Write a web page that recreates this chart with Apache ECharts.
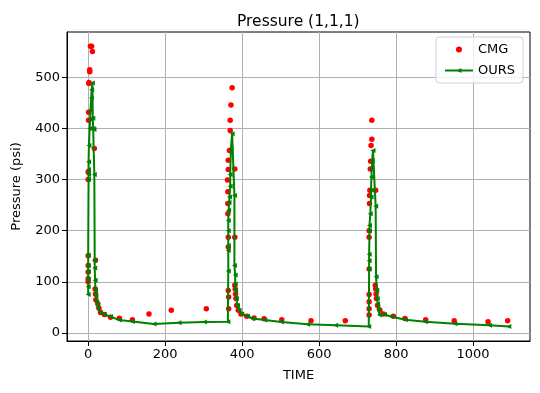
<!DOCTYPE html>
<html><head><meta charset="utf-8">
<script src="https://cdn.jsdelivr.net/npm/echarts@6/dist/echarts.min.js"></script>
<style>html,body{margin:0;padding:0;background:#fff}#c{width:540px;height:393px}</style>
</head><body><div id="c"></div>
<script>
const TITLE = 'Pressure (1,1,1)';
const X_TICKS = [0, 200, 400, 600, 800, 1000];
const Y_TICKS = [0, 100, 200, 300, 400, 500];

const CMG_T = [0,0,0,0,0,0,0,1,1,2,2,4,4,6,9,11,16,19,18,19,20,25,28,32,42,58,81,115,158,216,307,
  362,363,363,363,364,364,364,365,365,364,364,367,369,369,371,374,381,381,381,382,383,384,386,390,397,412,431,457,503,579,668,
  730,730,730,730,730,730,730,731,731,732,733,734,735,737,737,747,746,747,748,749,752,758,767,793,823,877,951,1039,1090];
const CMG_P = [100,106,119,132,151,300,315,416,432,488,490,511,515,561,561,551,361,142,86,76,65,57,48,40,36,30.6,28.6,25.5,37,44,47,
  299,276,253,233,187,168,83,70,47,320,338,357,396,416,446,480,321,187,93,86,76,67,53.5,44,37,32.5,29,27.5,25.5,23.5,23.5,
  75,61,47,35,125,187,200,253,269,279,321,336,367,379,416,279,93,86,76,67,53.5,44,37,32.5,28,25.5,23.5,21.5,23.5];

const OURS_T = [0,0,0,0,0,0,1,1,1,1,2,4,5,6,8,9,11,12,13,15,16,17,17,18,19,20,22,25,32,42,58,81,115,171,236,302,363,
  364,364,364,364,364,365,366,367,369,369,371,374,380,380,382,382,383,385,388,392,399,414,427,459,502,570,643,729,
  730,730,730,731,731,733,735,735,736,738,740,747,748,750,751,752,754,757,770,787,824,876,953,1043,1093];
const OURS_P = [75,90,105,120,132,152,300,310,320,335,367,400,418,436,460,476,489,420,400,398,310,142,127,103,84,72,60,50,40,36,32,25,22,17.5,19.5,21,21.5,
  121,161,171,200,220,240,255,266,287,310,361,390,269,132,113,96,83,67,53.5,44,37,32.5,28,25,21,17,15,12.4,
  125,141,154,200,210,233,266,279,305,337,357,248,110,83,67,57,46,35,36,32,25.5,21.5,17.6,15,12.4];

const cmg = CMG_T.map((t, i) => [t, CMG_P[i]]);
const ours = OURS_T.map((t, i) => [t, OURS_P[i]]);

const FONT = 'DejaVu Sans';
const chart = echarts.init(document.getElementById('c'), null, {renderer: 'canvas'});
chart.setOption({
  animation: false,
  backgroundColor: '#fff',
  textStyle: {fontFamily: FONT},
  title: {text: TITLE, left: 232, top: 9, textStyle: {fontFamily: FONT, fontSize: 15.5, fontWeight: 'normal', color: '#000'}},
  grid: {left: 67, right: 10, top: 32, bottom: 52, show: true, borderColor: '#000', borderWidth: 1, containLabel: false},
  legend: {
    orient: 'vertical', right: 17, top: 37,
    backgroundColor: 'rgba(255,255,255,0.8)', borderColor: '#d0d0d0', borderWidth: 1, borderRadius: 3,
    padding: [6, 8, 6, 8], itemWidth: 28, itemHeight: 6, itemGap: 8,
    textStyle: {fontFamily: FONT, fontSize: 13, color: '#000'},
    data: ['CMG', 'OURS']
  },
  xAxis: {
    type: 'value', min: -55, max: 1148,
    name: 'TIME', nameLocation: 'middle', nameGap: 28,
    nameTextStyle: {fontFamily: FONT, fontSize: 13, color: '#000'},
    axisLine: {show: true, onZero: false, lineStyle: {color: '#000', width: 1}},
    axisTick: {show: true, inside: false, length: 5, lineStyle: {color: '#000'}, customValues: X_TICKS},
    axisLabel: {fontFamily: FONT, fontSize: 13, color: '#000', margin: 7, customValues: X_TICKS,
      formatter: v => String(v)},
    splitLine: {show: true, lineStyle: {color: '#b0b0b0', width: 1}}
  },
  yAxis: {
    type: 'value', min: -16, max: 589,
    name: 'Pressure (psi)', nameLocation: 'middle', nameGap: 44,
    nameTextStyle: {fontFamily: FONT, fontSize: 13, color: '#000'},
    axisLine: {show: true, onZero: false, lineStyle: {color: '#000', width: 1}},
    axisTick: {show: true, inside: false, length: 5, lineStyle: {color: '#000'}, customValues: Y_TICKS},
    axisLabel: {fontFamily: FONT, fontSize: 13, color: '#000', margin: 7, customValues: Y_TICKS,
      formatter: v => String(v)},
    splitLine: {show: true, lineStyle: {color: '#b0b0b0', width: 1}}
  },
  series: [
    {name: 'CMG', type: 'scatter', data: cmg, symbol: 'circle', symbolSize: 5.5,
     itemStyle: {color: '#ff0000', opacity: 1}, z: 2},
    {name: 'OURS', type: 'line', data: ours, symbol: 'triangle', symbolRotate: 90, symbolSize: 5,
     showSymbol: true, showAllSymbol: true,
     lineStyle: {color: '#008000', width: 2}, itemStyle: {color: '#008000', opacity: 1}, z: 3}
  ]
});
</script></body></html>
